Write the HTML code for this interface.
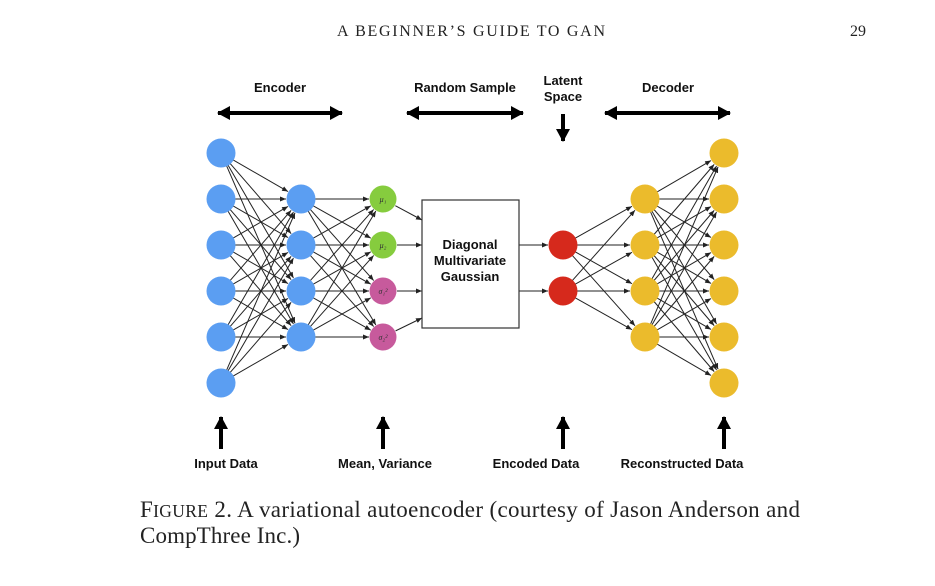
<!DOCTYPE html>
<html><head><meta charset="utf-8"><style>
body{margin:0;background:#fff;width:935px;height:586px;overflow:hidden}
svg{display:block}
.h{font-family:"Liberation Serif",serif;font-size:16px;fill:#222}
.l{font-family:"Liberation Sans",sans-serif;font-weight:bold;font-size:13px;fill:#111;text-anchor:middle}
.c{font-family:"Liberation Serif",serif;font-size:23px;fill:#222}
.g{font-family:"Liberation Serif",serif;font-style:italic;font-size:8px;fill:#333;text-anchor:middle}
</style></head><body>
<svg id="s" width="935" height="586" xmlns="http://www.w3.org/2000/svg">
<defs>
<marker id="a" markerWidth="6" markerHeight="6" refX="6" refY="3" orient="auto" markerUnits="userSpaceOnUse"><path d="M0,0.5 L6,3 L0,5.5z" fill="#222"/></marker>
<marker id="b" markerWidth="14" markerHeight="14" refX="12" refY="7" orient="auto" markerUnits="userSpaceOnUse"><path d="M0,0 L13,7 L0,14z" fill="#000"/></marker>
<marker id="bs" markerWidth="14" markerHeight="14" refX="2" refY="7" orient="auto" markerUnits="userSpaceOnUse"><path d="M14,0 L1,7 L14,14z" fill="#000"/></marker>
</defs>
<text class="h" x="337" y="36" textLength="268">A BEGINNER’S GUIDE TO GAN</text>
<text class="h" x="850" y="36">29</text>
<text class="l" x="280" y="92">Encoder</text>
<text class="l" x="465" y="92">Random Sample</text>
<text class="l" x="563" y="85">Latent</text>
<text class="l" x="563" y="101">Space</text>
<text class="l" x="668" y="92">Decoder</text>
<g stroke="#000" stroke-width="4">
<line x1="218" y1="113" x2="342" y2="113" marker-end="url(#b)" marker-start="url(#bs)"/>
<line x1="407" y1="113" x2="523" y2="113" marker-end="url(#b)" marker-start="url(#bs)"/>
<line x1="605" y1="113" x2="730" y2="113" marker-end="url(#b)" marker-start="url(#bs)"/>
<line x1="563" y1="114" x2="563" y2="141" marker-end="url(#b)"/>
<line x1="221" y1="449" x2="221" y2="417" marker-end="url(#b)"/>
<line x1="383" y1="449" x2="383" y2="417" marker-end="url(#b)"/>
<line x1="563" y1="449" x2="563" y2="417" marker-end="url(#b)"/>
<line x1="724" y1="449" x2="724" y2="417" marker-end="url(#b)"/>
</g>
<g id="lines" stroke="#222" stroke-width="1" fill="none"></g>
<rect x="422" y="200" width="97" height="128" fill="#fff" stroke="#333" stroke-width="1.2"/>
<text class="l" x="470" y="249">Diagonal</text>
<text class="l" x="470" y="265">Multivariate</text>
<text class="l" x="470" y="281">Gaussian</text>
<g id="nodes"></g>
<text class="l" x="226" y="468">Input Data</text>
<text class="l" x="385" y="468">Mean, Variance</text>
<text class="l" x="536" y="468">Encoded Data</text>
<text class="l" x="682" y="468">Reconstructed Data</text>
<text class="c" x="140" y="517" textLength="660" lengthAdjust="spacing">F<tspan font-size="17.5">IGURE</tspan> 2.  A variational autoencoder (courtesy of Jason Anderson and</text>
<text class="c" x="140" y="543" textLength="160" lengthAdjust="spacing">CompThree Inc.)</text>
</svg>
<script>
var L=document.getElementById('lines'),N=document.getElementById('nodes'),ns='http://www.w3.org/2000/svg';
function ln(x1,y1,x2,y2,r2){var dx=x2-x1,dy=y2-y1,d=Math.hypot(dx,dy),r1=14;
var e=document.createElementNS(ns,'line');e.setAttribute('x1',x1+dx/d*r1);e.setAttribute('y1',y1+dy/d*r1);
e.setAttribute('x2',x2-dx/d*r2);e.setAttribute('y2',y2-dy/d*r2);e.setAttribute('marker-end','url(#a)');L.appendChild(e);}
function circ(x,y,r,c){var e=document.createElementNS(ns,'circle');e.setAttribute('cx',x);e.setAttribute('cy',y);e.setAttribute('r',r);e.setAttribute('fill',c);N.appendChild(e);}
var six=[153,199,245,291,337,383],four=[199,245,291,337],two=[245,291];
six.forEach(function(a){four.forEach(function(b){ln(221,a,301,b,15);});});
four.forEach(function(a){four.forEach(function(b){ln(301,a,383,b,14);});});
two.forEach(function(a){four.forEach(function(b){ln(563,a,645,b,15);});});
four.forEach(function(a){six.forEach(function(b){ln(645,a,724,b,15);});});
[[199,220],[245,245],[291,291],[337,318]].forEach(function(p){ln(383,p[0],422,p[1],0);});
two.forEach(function(y){var e=document.createElementNS(ns,'line');e.setAttribute('x1',519);e.setAttribute('y1',y);e.setAttribute('x2',548);e.setAttribute('y2',y);e.setAttribute('marker-end','url(#a)');L.appendChild(e);});
six.forEach(function(y){circ(221,y,14.5,'#5b9ef2');circ(724,y,14.5,'#ebbb2c');});
four.forEach(function(y){circ(301,y,14.5,'#5b9ef2');circ(645,y,14.5,'#ebbb2c');});
two.forEach(function(y){circ(563,y,14.5,'#d6291c');});
circ(383,199,13.5,'#86cc3e');circ(383,245,13.5,'#86cc3e');circ(383,291,13.5,'#c75a9c');circ(383,337,13.5,'#c75a9c');
var lb=['μ₁','μ₂','σ₁²','σ₂²'];four.forEach(function(y,i){var t=document.createElementNS(ns,'text');t.setAttribute('class','g');t.setAttribute('x',383);t.setAttribute('y',y+3);t.textContent=lb[i];N.appendChild(t);});
</script>
</body></html>
